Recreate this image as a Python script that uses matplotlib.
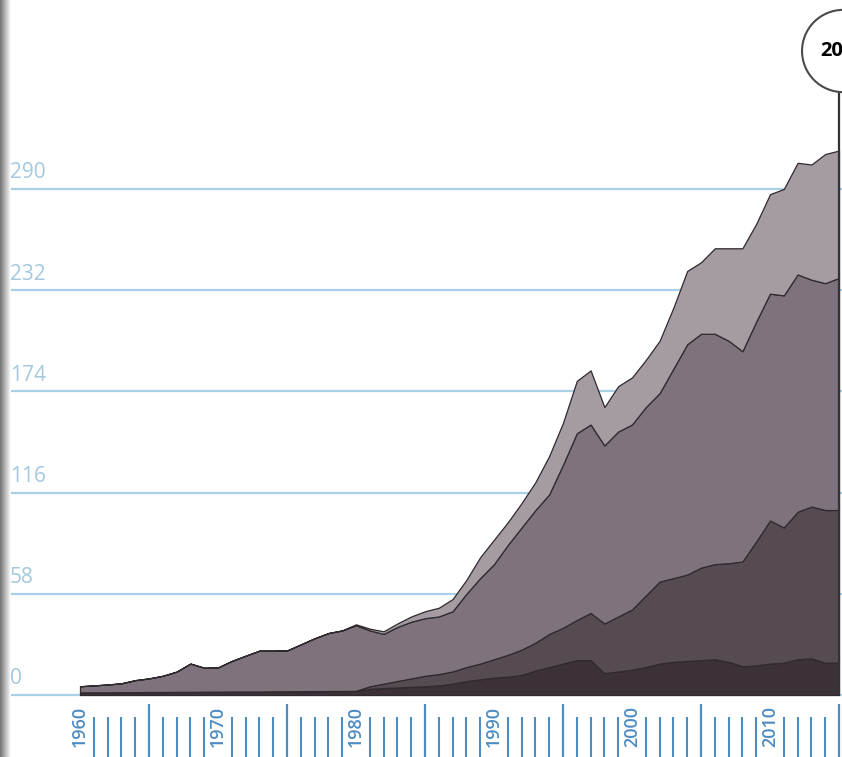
import numpy as np
import matplotlib
matplotlib.use("Agg")
import matplotlib.pyplot as plt

# years on the x axis
years = np.arange(1960, 2016)

# stacked layers, bottom to top
layer_1 = [1.5, 1.5, 1.5, 1.6, 1.6, 1.7, 1.7, 1.8, 1.8, 1.9, 1.9, 2.0, 2.0, 2.0, 2.1, 2.1, 2.2, 2.2, 2.3, 2.3, 2.4,
           3.5, 4, 4.3, 4.7, 5, 5.5, 6.5, 8, 9, 10,
           10.5, 11.5, 14, 16, 18, 20, 20, 12.5, 13.5, 14.5,
           16, 18, 19, 19.5, 20, 20.5, 19, 16.5, 17, 18,
           18.5, 20.5, 21, 18.5, 18.5]
layer_2 = [0] * 21 + [1.5, 2.5, 3.7, 4.8, 6, 6.5, 7, 8, 9, 10.5,
                      12.5, 14.5, 16, 19, 20.5, 23, 27, 28.5, 31.5, 34.5,
                      41, 47, 48, 49.5, 53, 54.5, 56.5, 60, 71, 82,
                      77.5, 84.5, 87, 87.5, 87.5]
layer_3 = [3.5, 4.0, 4.5, 5.1, 6.9, 7.8, 9.3, 11.6, 16.2, 13.7, 13.9, 17.5, 20.5, 23.4, 23.3, 23.4, 26.8, 30.3, 33.2, 34.7, 37.6,
           32, 28.5, 31, 32.5, 33, 33, 34.5, 42, 49, 54.5,
           63, 70, 76, 80, 93.5, 107, 108, 102, 106, 106,
           108, 108, 120, 132, 134, 132, 127.5, 120.5, 126, 130,
           133, 136, 130, 130, 133]
layer_4 = [0] * 20 + [0.5,
                      1, 1.5, 2, 3, 4, 5, 7, 8, 12, 14,
                      13, 14, 16, 22, 24, 30, 31, 22, 26, 27,
                      27, 30, 35, 42, 41, 49, 53, 59, 56, 57,
                      61, 64, 66, 74, 73]

y_ticks = [0, 58, 116, 174, 232, 290]
decades = [1960, 1970, 1980, 1990, 2000, 2010]
marker_label = "2015"

colors = ["#3c3139", "#574b53", "#7e737c", "#a49ba3"]
grid_blue = "#a9d0e6"
label_blue = "#a3c8e0"
tick_blue = "#4e8cc2"

plt.rcParams['font.family'] = ['Open Sans', 'DejaVu Sans']

W, H = 842, 757
fig = plt.figure(figsize=(W / 100, H / 100), dpi=100)
ax = fig.add_axes([0, 0, 1, 1])

# pixel layout: 1960 at x=80, 13.8 px per year; zero at y=695, 1.745 px per unit
px_year = 13.8
px_unit = 1.745
ax.set_xlim(1960 - 80 / px_year, 1960 + (W - 80) / px_year)
ax.set_ylim(-(H - 695) / px_unit, 695 / px_unit)

for v in y_ticks:
    ax.axhline(v, color=grid_blue, lw=1.6, zorder=0)
    ax.annotate(str(v), xy=(0.012, v), xycoords=('axes fraction', 'data'),
                xytext=(0, 4), textcoords='offset points',
                ha='left', va='bottom', color=label_blue, fontsize=15)

ax.stackplot(years, layer_1, layer_2, layer_3, layer_4, colors=colors,
             edgecolor='#2f2a2e', linewidth=0.9, zorder=2)

# highlighted year: vertical marker with a round label (cut by the right edge, as in the original)
circle_y = (695 - 51) / px_unit
ax.vlines(years[-1], 0, circle_y, color='#333333', lw=1.6, zorder=3)
ax.annotate(marker_label, xy=(years[-1], circle_y), xytext=(3, 0),
            textcoords='offset points', ha='center', va='center',
            fontsize=14.5, fontweight='bold', color='black', zorder=5,
            bbox=dict(boxstyle='circle,pad=0.9', fc='white', ec='#4a4a4a', lw=1.5),
            annotation_clip=False)

# x axis: ticks rising from the bottom edge, decade labels sit in the gaps
for s in ax.spines.values():
    s.set_visible(False)
ax.set_yticks([])
major = [y for y in years if y % 5 == 0 and y % 10 != 0]
minor = [y for y in years if y % 5 != 0]
ax.set_xticks(major)
ax.set_xticks(minor, minor=True)
ax.set_xticklabels([])
ax.tick_params(axis='x', which='major', direction='in', length=38, width=1.6, color=tick_blue)
ax.tick_params(axis='x', which='minor', direction='in', length=29, width=1.5, color=tick_blue)

for d in decades:
    ax.text(d, (H - 706) / H, str(d), transform=ax.get_xaxis_transform(),
            rotation=90, ha='center', va='top', color=tick_blue,
            fontsize=13, fontweight='semibold')

# soft gray shadow at the left edge
sh = fig.add_axes([0, 0, 11 / W, 1])
sh.imshow(np.linspace(0.45, 1.0, 40).reshape(1, -1), cmap='gray', vmin=0, vmax=1,
          aspect='auto', extent=[0, 1, 0, 1])
sh.axis('off')

fig.savefig("out.png", dpi=100)
